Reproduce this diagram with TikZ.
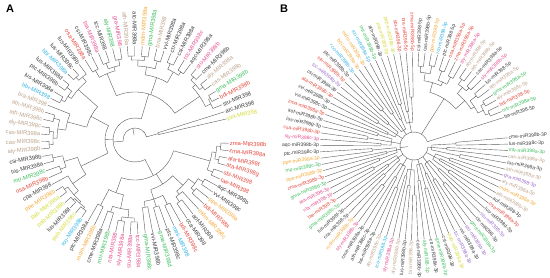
\documentclass[tikz,border=0pt]{standalone}
\usepackage{fontspec}
\setmainfont{Liberation Sans}
\usetikzlibrary{positioning}
\definecolor{LabRed}{HTML}{E5473B}
\definecolor{LabGreen}{HTML}{3DBD5C}
\definecolor{LabTan}{HTML}{BCA38C}
\definecolor{LabOrange}{HTML}{F2A83A}
\definecolor{LabYellow}{HTML}{D4D93A}
\definecolor{LabCyan}{HTML}{2FB3E3}
\definecolor{LabPink}{HTML}{E4508F}
\definecolor{LabPurple}{HTML}{9C6CC8}
\definecolor{LabBlack}{HTML}{3C3C3C}
\definecolor{BranchGrey}{HTML}{5A5A5A}
% leaf label on the ring, turned so that it reads from the left
\newcommand{\treeleaf}[4]{%
  \pgfmathtruncatemacro\rside{cos(#2)>=0}%
  \ifnum\rside=1
    \node[leaflab, text=#3, rotate=#2, anchor=west] (#1) at (#2:\leafR) {#4};%
  \else
    \pgfmathsetmacro\flip{#2+180}%
    \node[leaflab, text=#3, rotate=\flip, anchor=east] (#1) at (#2:\leafR) {#4};%
  \fi}
% clade: arc at radius #3 from slot #1 to slot #2, stem down to radius #4
\newcommand{\cladearc}[4]{%
  \pgfmathsetmacro\clA{\thzero-(#1-1)*\thstep}%
  \pgfmathsetmacro\clB{\thzero-(#2-1)*\thstep}%
  \pgfmathsetmacro\clM{(\clA+\clB)/2}%
  \draw[branch] (\clA:#3) arc[start angle=\clA, end angle=\clB, radius=#3];%
  \draw[branch] (\clM:#3) -- (\clM:#4);}
\tikzset{
  branch/.style={draw=BranchGrey, line width=0.4pt},
  leaflab/.style={inner sep=0.8pt, font=\fontsize{5.8}{6}\selectfont},
  panel/.style={font=\bfseries\fontsize{11}{12}\selectfont, anchor=north west, inner sep=0pt},
}
\begin{document}
\begin{tikzpicture}[x=1pt, y=1pt]
\useasboundingbox (0,0) rectangle (550,278);
\node[panel] (labA) at (6,273) {A};
\node[panel] (labB) at (280,273) {B};
\def\leafR{94}

% tree A
\begin{scope}[shift={(135,138)}]
  \def\thzero{-2}\def\thstep{4.54}
  \foreach \lab/\col/\r [count=\i] in {
    zma-MIR398b/LabRed/86, zma-MIR398a/LabRed/86, ata-MIR398f/LabRed/86, ata-MIR398g/LabRed/86,
    sbi-MIR398/LabRed/84, tae-MIR398/LabRed/84, aqc-MIR398b/LabBlack/80, vvi-MIR398c/LabBlack/80,
    ppe-MIR398a/LabOrange/78, bdi-MIR398a/LabRed/78, mdm-MIR398c/LabOrange/70, aof-MIR398/LabBlack/76,
    cca-MIR398/LabBlack/76, bdi-MIR398c/LabRed/72, mes-MIR398/LabCyan/72, ptc-MIR398c/LabBlack/70,
    gma-MIR398d/LabGreen/70, vvi-MIR398b/LabBlack/68, gma-MIR398c/LabGreen/68, tcc-MIR398a/LabPink/82,
    stu-MIR398a/LabPink/82, sly-MIR398a/LabPink/82, nta-MIR398/LabPink/82, mtr-MIR398b/LabGreen/76,
    cme-MIR398a/LabBlack/76, mdm-MIR398b/LabOrange/74, ptc-MIR398a/LabBlack/74, rco-MIR398b/LabCyan/86,
    pab-MIR398c/LabYellow/86, lus-MIR398f/LabBlack/86, pab-MIR398b/LabYellow/86, pab-MIR398a/LabYellow/86,
    ppe-MIR398b/LabOrange/86, cpa-MIR398/LabBlack/76, osa-MIR398b/LabRed/80, mtr-MIR398c/LabGreen/80,
    lus-MIR398a/LabBlack/84, csi-MIR398b/LabBlack/84, aly-MIR398b/LabTan/86, cas-MIR398c/LabTan/86,
    cas-MIR398a/LabTan/86, aly-MIR398c/LabTan/86, ath-MIR398c/LabTan/84, ath-MIR398b/LabTan/84,
    bra-MIR398/LabTan/70, hbr-MIR398/LabCyan/84, lus-MIR398e/LabBlack/84, ptc-MIR398b/LabBlack/86,
    lus-MIR398d/LabBlack/86, hbr-MIR398a/LabCyan/86, lus-MIR398c/LabBlack/86, lus-MIR398b/LabBlack/82,
    osa-MIR398a/LabRed/80, csi-MIR398c/LabBlack/80, bra-MIR398a/LabPink/82, tcc-MIR398/LabBlack/82,
    aly-MIR398/LabGreen/82, gra-MIR398/LabPink/82, ath-MIR398a/LabTan/84, atc-MIR398a/LabBlack/84,
    mdm-MIR398a/LabOrange/84, gma-MIR398a/LabGreen/84, bna-MIR398/LabTan/82, vvi-MIR398a/LabBlack/82,
    ctr-MIR398a/LabBlack/84, csi-MIR398a/LabBlack/84, tcc-MIR398c/LabPink/82, aqc-MIR398a/LabBlack/82,
    stu-MIR398b/LabPink/86, cme-MIR398b/LabBlack/86, aly-MIR398a/LabTan/86, cas-MIR398b/LabTan/86,
    gma-MIR398b/LabGreen/86, bdi-MIR398b/LabRed/86, stu-MIR398/LabBlack/84, atc-MIR398/LabBlack/24,
    pta-MIR398/LabYellow/24}{
    \pgfmathsetmacro\th{\thzero-(\i-1)*\thstep}
    \treeleaf{a\i}{\th}{\col}{\lab}
    \draw[branch] (\th:\r) -- (a\i);
  }
  \foreach \p/\q/\r/\s in {
    1/2/86/82, 3/4/86/82, 1.5/3.5/82/78, 5/6/84/78, 2.5/5.5/78/40,
    7/8/80/74, 9/10/78/74, 7.5/9.5/74/66, 12/13/76/70, 11/12.5/70/66, 8.5/11.75/66/52,
    14/15/72/62, 16/17/70/62, 18/19/68/62, 14.5/18.5/62/52, 10.125/16.5/52/40,
    20/21/82/78, 22/23/82/78, 20.5/22.5/78/70, 24/25/76/70, 21.5/24.5/70/56, 26/27/74/56,
    23/26.5/56/40, 4/24.75/40/22,
    28/29/86/84, 30/31/86/84, 28.5/30.5/84/82, 32/33/86/82, 29.5/32.5/82/76, 31/34/76/60,
    35/36/80/74, 37/38/84/74, 35.5/37.5/74/60, 32.5/36.5/60/30,
    39/40/86/82, 41/42/86/82, 39.5/41.5/82/78, 43/44/84/78, 40.5/43.5/78/70, 42/45/70/50,
    46/47/84/80, 48/49/86/80, 46.5/48.5/80/76, 50/51/86/82, 50.5/52/82/76, 47.5/51.25/76/50,
    43.5/49.375/50/30, 34.5/46.4375/30/22,
    53/54/80/72, 55/56/82/76, 57/58/82/76, 55.5/57.5/76/72, 53.5/56.5/72/48,
    59/60/84/80, 61/62/84/80, 59.5/61.5/80/74, 63/64/82/74, 60.5/63.5/74/66,
    65/66/84/78, 67/68/82/78, 65.5/67.5/78/66, 62/66.5/66/48,
    69/70/86/82, 71/72/86/82, 69.5/71.5/82/78, 73/74/86/84, 73.5/75/84/78, 70.5/74.25/78/48,
    55/72.375/48/22, 76/77/24/12,
    14.375/63.6875/22/12, 39.03125/76.5/12/5}
    {\cladearc{\p}{\q}{\r}{\s}}
\end{scope}

% tree B
\begin{scope}[shift={(414,132)}, leaflab/.append style={font=\fontsize{5}{6}\selectfont}]
  \def\thzero{5}\def\thstep{3.86}
  \foreach \lab/\col [count=\i] in {
    cme-miR398b-3p/LabBlack, lus-miR398c-3p/LabBlack, mtr-miR398a-3p/LabGreen, cas-miR398a-3p/LabTan,
    lus-miR398a-3p/LabBlack, ath-miR398a-3p/LabTan, gra-miR398-3p/LabPurple, aly-miR398a-3p/LabTan,
    mdm-miR398a-3p/LabOrange, ath-miR398b-3p/LabTan, aof-miR398-3p/LabBlack, osa-miR398a-3p/LabRed,
    lus-miR398d-3p/LabBlack, stu-miR398-3p/LabPurple, ctr-miR398-3p/LabBlack, gma-miR398a-3p/LabGreen,
    stu-miR398a-3p/LabPurple, vvi-miR398a-3p/LabBlack, tcc-miR398a-3p/LabPurple, pab-miR398a-3p/LabYellow,
    csi-miR398-3p/LabBlack, gma-miR398b-3p/LabGreen, ctr-miR398a-3p/LabBlack, aly-miR398-3p/LabGreen,
    cas-miR398b-3p/LabBlack, bra-miR398-3p/LabTan, lus-miR398b-3p/LabBlack, aly-miR398b-3p/LabTan,
    sly-miR398a-3p/LabPink, rco-miR398-3p/LabCyan, aly-miR398c-3p/LabTan, lus-miR398e-3p/LabBlack,
    ath-miR398c-3p/LabBlack, cme-miR398a-3p/LabBlack, sly-miR398b-3p/LabPink, mdm-miR398b-3p/LabOrange,
    cca-miR398-3p/LabBlack, lus-miR398f-3p/LabBlack, gma-miR398c-3p/LabGreen, tae-miR398-3p/LabRed,
    nta-miR398-3p/LabPink, ata-miR398-3p/LabPink, gma-miR398d-3p/LabGreen, zma-miR398b-3p/LabRed,
    ppe-miR398b-3p/LabOrange, mtr-miR398c-3p/LabGreen, ppe-miR398a-3p/LabOrange, ptc-miR398c-3p/LabBlack,
    aqc-miR398b-3p/LabBlack, sly-miR398c-3p/LabPink, csa-miR398b-3p/LabRed, lus-miR398g-3p/LabBlack,
    aof-miR398b-3p/LabBlack, zma-miR398a-3p/LabRed, vvi-miR398c-3p/LabBlack, vvi-miR398b-3p/LabBlack,
    ata-miR398b-3p/LabRed, csi-miR398a-3p/LabBlack, tcc-miR398b-3p/LabPurple, stu-miR398b-3p/LabRed,
    ptc-miR398b-3p/LabBlack, rco-miR398b-3p/LabCyan, bdi-miR398a-3p/LabOrange, mdm-miR398c-3p/LabOrange,
    rco-miR398a-3p/LabCyan, mtr-miR398b-3p/LabGreen, ath-miR398-3p/LabBlack, pta-miR398-3p/LabYellow,
    pab-miR398b-3p/LabYellow, sbi-miR398-3p/LabRed, bra-miR398-5p/LabRed, zma-miR398b-5p/LabRed,
    csi-miR398-5p/LabBlack, cas-miR398b-5p/LabBlack, ppe-miR398-5p/LabOrange, rco-miR398-5p/LabCyan,
    ptc-miR398-5p/LabBlack, osa-miR398a-5p/LabRed, zma-miR398a-5p/LabRed, sly-miR398a-5p/LabPink,
    aly-miR398-5p/LabTan, ath-miR398b-5p/LabTan, cas-miR398a-5p/LabBlack, sly-miR398b-5p/LabPink,
    lus-miR398-5p/LabBlack, ath-miR398a-5p/LabTan, gma-miR398a-5p/LabGreen, aly-miR398c-5p/LabTan,
    bdi-miR398-5p/LabRed, mtr-miR398a-5p/LabGreen, tta-miR398-5p/LabBlack}
    {\pgfmathsetmacro\th{\thzero-(\i-1)*\thstep}
     \treeleaf{b\i}{\th}{\col}{\lab}}
  % -3p leaves: pairs on long branches
  \foreach \pr in {1,...,36}{
    \pgfmathtruncatemacro\grp{(\pr-1)/3}
    \pgfmathsetmacro\rp{28+mod(\pr*37,23)}
    \pgfmathsetmacro\rg{18+mod(\grp*5,7)}
    \pgfmathtruncatemacro\lu{2*\pr-1}
    \pgfmathtruncatemacro\lv{2*\pr}
    \pgfmathsetmacro\thu{\thzero-(\lu-1)*\thstep}
    \pgfmathsetmacro\thv{\thzero-(\lv-1)*\thstep}
    \draw[branch] (\thu:\rp) -- (b\lu);
    \draw[branch] (\thv:\rp) -- (b\lv);
    \cladearc{\lu}{\lv}{\rp}{\rg}
  }
  \foreach \grp in {0,...,11}{
    \pgfmathsetmacro\rg{18+mod(\grp*5,7)}
    \cladearc{6*\grp+1.5}{6*\grp+5.5}{\rg}{14}
  }
  % -5p leaves
  \foreach \i/\r in {73/80, 74/80, 75/82, 76/82, 77/80, 78/80, 79/78, 80/78, 81/82, 82/82,
      83/80, 84/80, 85/80, 86/80, 87/82, 88/82, 89/82, 90/82, 91/14}{
    \pgfmathsetmacro\th{\thzero-(\i-1)*\thstep}
    \draw[branch] (\th:\r) -- (b\i);
  }
  \foreach \p/\q/\r/\s in {
    73/74/80/74, 75/76/82/74, 73.5/75.5/74/66, 77/78/80/70, 79/80/78/70, 77.5/79.5/70/66,
    74.5/78.5/66/56, 81/82/82/76, 83/84/80/76, 81.5/83.5/76/68, 85/86/80/72, 87/88/82/78,
    89/90/82/78, 87.5/89.5/78/72, 85.5/88.5/72/68, 82.5/87/68/56, 76.5/84.75/56/14,
    3.5/91/14/6}
    {\cladearc{\p}{\q}{\r}{\s}}
\end{scope}
\end{tikzpicture}
\end{document}
